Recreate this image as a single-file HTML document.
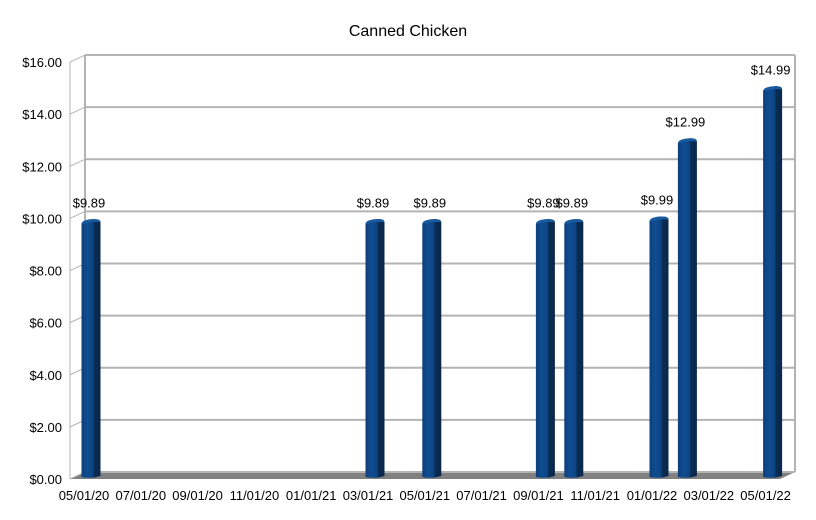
<!DOCTYPE html>
<html><head><meta charset="utf-8"><style>
body{margin:0;background:#fff;font-family:"Liberation Sans",sans-serif;}
svg text{font-family:"Liberation Sans",sans-serif;}
</style></head><body>
<svg width="816" height="515" viewBox="0 0 816 515">
<defs>
<linearGradient id="bg" x1="0" x2="1" y1="0" y2="0">
<stop offset="0" stop-color="#0e3f78"/><stop offset="0.3" stop-color="#0f4d92"/><stop offset="0.62" stop-color="#0c4482"/><stop offset="0.66" stop-color="#0a2c55"/><stop offset="1" stop-color="#0a2748"/>
</linearGradient>
</defs>
<text x="408" y="36" text-anchor="middle" font-size="16" fill="#000">Canned Chicken</text>
<g id="grid"></g>
<g id="bars"></g>
<g id="xlabels"></g>
</svg>
<script>
const categories=["05/01/20","03/01/21","05/01/21","09/01/21","10/01/21","01/01/22","02/01/22","05/01/22"];
const monthIdx=[0,10,12,16,17,20,21,24];
const values=[9.89,9.89,9.89,9.89,9.89,9.99,12.99,14.99];
const valueLabels=["$9.89","$9.89","$9.89","$9.89","$9.89","$9.99","$12.99","$14.99"];
const yTicks=[0,2,4,6,8,10,12,14,16];
const yTickLabels=["$0.00","$2.00","$4.00","$6.00","$8.00","$10.00","$12.00","$14.00","$16.00"];
const xTickLabels=["05/01/20","07/01/20","09/01/20","11/01/20","01/01/21","03/01/21","05/01/21","07/01/21","09/01/21","11/01/21","01/01/22","03/01/22","05/01/22"];
const NS="http://www.w3.org/2000/svg";
const y=v=>479-v*26.06;
const xm=m=>91+m*28.4;
const DX=15,DY=-7;
function mk(t,a,p){const e=document.createElementNS(NS,t);for(const k in a)e.setAttribute(k,a[k]);p.appendChild(e);return e;}
const grid=document.getElementById('grid');
// floor
const fl=mk('polygon',{points:`70,${y(0)} ${70+710},${y(0)} ${795},${y(0)+DY} ${85},${y(0)+DY}`,fill:'#808080'},grid);


// back wall right edge & left wall
mk('line',{x1:795,y1:y(16)+DY,x2:795,y2:y(0)+DY,stroke:'#b3b3b3','stroke-width':2},grid);
mk('line',{x1:85,y1:y(16)+DY,x2:85,y2:y(0)+DY,stroke:'#b3b3b3','stroke-width':2},grid);
mk('line',{x1:70,y1:y(16),x2:70,y2:y(0),stroke:'#b3b3b3','stroke-width':1},grid);
yTicks.forEach((v,i)=>{
  const l=mk('line',{x1:85,y1:y(v)+DY,x2:795,y2:y(v)+DY,stroke:'#b3b3b3','stroke-width':2},grid);
  
  
  mk('line',{x1:70,y1:y(v),x2:85,y2:y(v)+DY,stroke:'#b3b3b3','stroke-width':1},grid);
  const t=mk('text',{x:62,y:y(v)+5,'text-anchor':'end','font-size':13,fill:'#000'},grid);
  t.textContent=yTickLabels[i];
  
  
});
const bars=document.getElementById('bars');
values.forEach((v,i)=>{
  const cx=xm(monthIdx[i]),w=19,top=y(v),bot=y(0)-2;
  const g=mk('g',{},bars);
  
  
  mk('path',{d:`M${cx-w/2},${bot} L${cx-w/2},${top+3} Q${cx-w/2},${top-1} ${cx},${top-2} Q${cx+w/2},${top-3} ${cx+w/2},${top+1} L${cx+w/2},${bot-1} Q${cx},${bot+2} ${cx-w/2},${bot} Z`,fill:'url(#bg)'},g);
  mk('path',{d:`M${cx-w/2},${top+3} Q${cx-w/2},${top-1} ${cx},${top-2} Q${cx+w/2},${top-3} ${cx+w/2},${top+1} Q${cx},${top} ${cx-w/2},${top+3}Z`,fill:'#1a5aa0'},g);
  const t=mk('text',{x:cx-2,y:top-14,'text-anchor':'middle','font-size':13,fill:'#000'},bars);
  t.textContent=valueLabels[i];
  
  
});
const xl=document.getElementById('xlabels');
xTickLabels.forEach((s,i)=>{
  const t=mk('text',{x:xm(i*2)-7,y:500,'text-anchor':'middle','font-size':13,fill:'#000'},xl);
  t.textContent=s;
  
  
});
</script>
</body></html>
